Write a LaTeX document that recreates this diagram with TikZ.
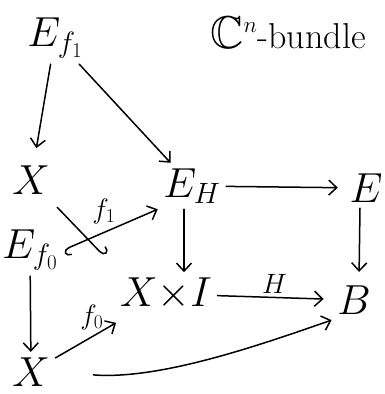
\documentclass[tikz,border=0pt]{standalone}
\usepackage{fix-cm}
\usepackage{amssymb}
\usetikzlibrary{arrows.meta}
\begin{document}
\begin{tikzpicture}[x=1pt,y=-1pt,line width=1.5,line cap=round,line join=round,
    >={Straight Barb[length=8pt,width=15pt]},
    every node/.style={font=\fontsize{42}{42}\selectfont,inner sep=5pt},
    lbl/.style={font=\fontsize{28}{28}\selectfont,inner sep=3pt},
    hk/.tip={Hooks[left,length=6pt,width=16pt]}]
  \useasboundingbox (0,0) rectangle (384,394);
  % objects
  \node (Ef1) at (55,38) {$E_{f_1}$};
  \node (Xt) at (31,180) {$X$};
  \node (EH) at (192,186) {$E_H$};
  \node (E) at (366,188) {$E$};
  \node (Ef0) at (30,250) {$E_{f_0}$};
  \node (XI) at (166,294) {$X{\times}I$};
  \node (B) at (354,300) {$B$};
  \node (Xb) at (31,372) {$X$};
  \node[font=\fontsize{36}{36}\selectfont] (bundle) at (288,33)
    {{\fontsize{46}{46}\selectfont$\mathbb{C}^{\scriptscriptstyle n}$}-bundle};
  \coordinate (c1) at (104,256);
  % maps
  \draw[->,shorten >=12pt] (Ef1) -- (Xt);
  \draw[->] (Ef1) -- (EH);
  \draw[->,shorten >=6pt] (EH) -- (E);
  \draw[->] ([xshift=-8pt]EH.south) -- ([xshift=18pt]XI.north);
  \draw[->,shorten >=8pt] ([xshift=-6pt]E.south) -- ([xshift=5pt]B.north);
  \draw[->,shorten >=8pt] (XI) -- node[above,lbl] (Hlab) {$H$} (B);
  \draw[hk->] (Ef0.east) -- (EH.south west);
  \draw[-hk,shorten <=10pt] (Xt) -- node[pos=0.6,above right=6pt,lbl] (f1lab) {$f_1$} (c1);
  \draw[->] (Ef0) -- (Xb);
  \draw[->,shorten >=14pt] (Xb) -- node[pos=0.5,above=3pt,lbl] (f0lab) {$f_0$} (XI);
  \draw[->,shorten <=38pt] (Xb.east) .. controls (160,380) and (260,345) .. (B.south west);
\end{tikzpicture}
\end{document}
